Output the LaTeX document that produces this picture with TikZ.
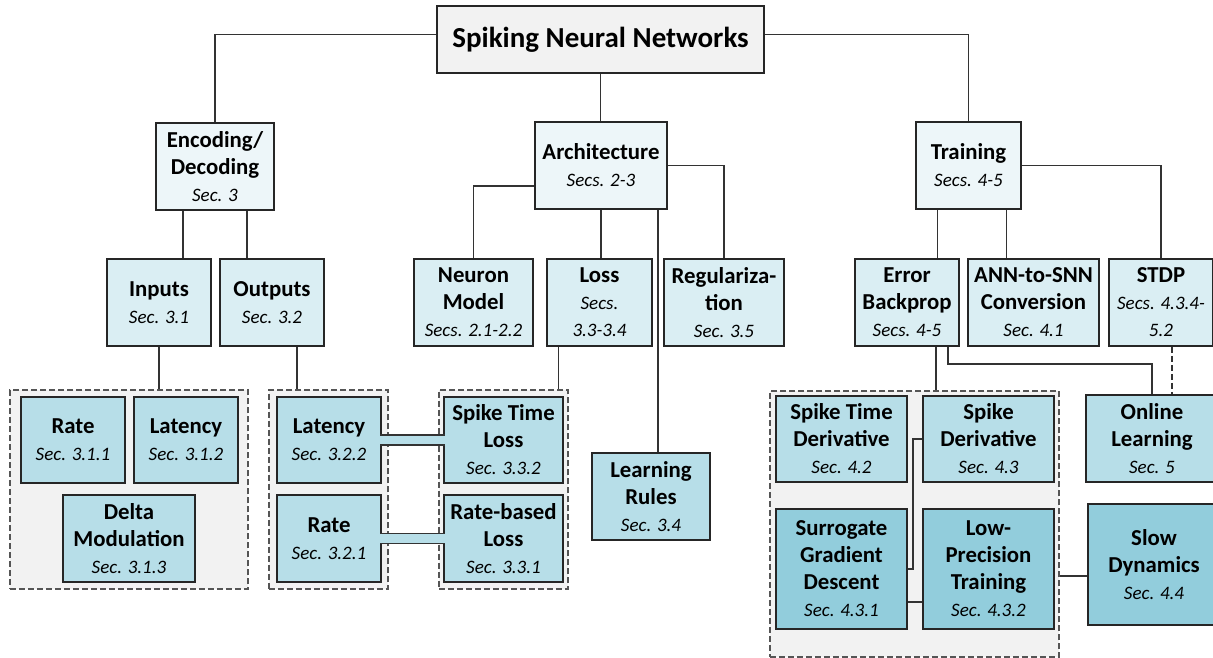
\documentclass[tikz,border=0pt]{standalone}
\usepackage{fontspec}
\setmainfont{Carlito}
\usetikzlibrary{calc}
\definecolor{c0}{HTML}{F2F2F2}
\definecolor{c1}{HTML}{EDF6F9}
\definecolor{c2}{HTML}{DAEEF3}
\definecolor{c3}{HTML}{B7DEE8}
\definecolor{c4}{HTML}{92CDDC}
\definecolor{grpfill}{HTML}{F2F2F2}
\definecolor{bline}{HTML}{262626}
\definecolor{cline}{HTML}{333333}
\definecolor{dline}{HTML}{555555}
\newcommand\snum[1]{{\fontsize{19}{27}\selectfont\mdseries\itshape #1}}
\begin{document}
\begin{tikzpicture}[x=1pt,y=-1pt,
  box/.style={draw=bline, line width=1.5pt, inner sep=0pt, align=center,
    font=\fontsize{22.8}{27}\selectfont\bfseries},
  lvl0/.style={box, fill=c0, font=\fontsize{29}{32}\selectfont\bfseries},
  lvl1/.style={box, fill=c1},
  lvl2/.style={box, fill=c2},
  lvl3/.style={box, fill=c3},
  lvl4/.style={box, fill=c4},
  grp/.style={draw=dline, fill=grpfill, line width=1.5pt, dash pattern=on 6pt off 3pt, inner sep=0pt},
  conn/.style={draw=cline, line width=1.6pt},
  dconn/.style={conn, dash pattern=on 6pt off 3pt},
  bar/.style={draw=cline, line width=1.4pt, double=c3, double distance=8.5pt, shorten <=-1.4pt, shorten >=-1.4pt}
]
\useasboundingbox (0,0) rectangle (1213,658);

% groups
\node[grp, minimum width=238, minimum height=199] (g1) at (129,489.5) {};
\node[grp, minimum width=119, minimum height=199] (g2) at (328.5,489.5) {};
\node[grp, minimum width=129, minimum height=199] (g3) at (503.5,489.5) {};
\node[grp, minimum width=289, minimum height=266] (g4) at (914.5,524) {};

% level 0
\node[lvl0, minimum width=327, minimum height=67] (title) at (600.5,39.5) {Spiking Neural Networks};

% level 1
\node[lvl1, minimum width=118, minimum height=87] (enc) at (215,166.5) {Encoding/\\Decoding\\\snum{Sec. 3}};
\node[lvl1, minimum width=132, minimum height=87] (arch) at (601,165.5) {Architecture\\\snum{Secs. 2-3}};
\node[lvl1, minimum width=105, minimum height=87] (train) at (968.5,165.5) {Training\\\snum{Secs. 4-5}};

% level 2
\node[lvl2, minimum width=104, minimum height=87] (inputs) at (159,302.5) {Inputs\\\snum{Sec. 3.1}};
\node[lvl2, minimum width=104, minimum height=87] (outputs) at (272,302.5) {Outputs\\\snum{Sec. 3.2}};
\node[lvl2, minimum width=119, minimum height=87] (neuron) at (473.5,302.5) {Neuron\\Model\\\snum{Secs. 2.1-2.2}};
\node[lvl2, minimum width=105, minimum height=87] (loss) at (599.5,302.5) {Loss\\\snum{Secs.}\\\snum{3.3-3.4}};
\node[lvl2, minimum width=120, minimum height=87] (reg) at (724,302.5) {Regulariza-\\tion\\\snum{Sec. 3.5}};
\node[lvl2, minimum width=104, minimum height=87] (eb) at (907,302.5) {Error\\Backprop\\\snum{Secs. 4-5}};
\node[lvl2, minimum width=131, minimum height=87] (ann) at (1033.5,302.5) {ANN-to-SNN\\Conversion\\\snum{Sec. 4.1}};
\node[lvl2, minimum width=104, minimum height=87] (stdp) at (1161,302.5) {STDP\\\snum{Secs. 4.3.4-}\\\snum{5.2}};

% level 3
\node[lvl3, minimum width=104, minimum height=86] (rate1) at (73,440) {Rate\\\snum{Sec. 3.1.1}};
\node[lvl3, minimum width=104, minimum height=86] (lat1) at (186,440) {Latency\\\snum{Sec. 3.1.2}};
\node[lvl3, minimum width=132, minimum height=87] (delta) at (129,538.5) {Delta\\Modulation\\\snum{Sec. 3.1.3}};
\node[lvl3, minimum width=104, minimum height=86] (lat2) at (329,440) {Latency\\\snum{Sec. 3.2.2}};
\node[lvl3, minimum width=104, minimum height=87] (rate2) at (329,538.5) {Rate\\\snum{Sec. 3.2.1}};
\node[lvl3, minimum width=119, minimum height=86] (stl) at (503.5,440) {Spike Time\\Loss\\\snum{Sec. 3.3.2}};
\node[lvl3, minimum width=119, minimum height=87] (rbl) at (503.5,538.5) {Rate-based\\Loss\\\snum{Sec. 3.3.1}};
\node[lvl3, minimum width=118, minimum height=87] (learn) at (651,496.5) {Learning\\Rules\\\snum{Sec. 3.4}};
\node[lvl3, minimum width=131, minimum height=86] (std) at (841.5,439) {Spike Time\\Derivative\\\snum{Sec. 4.2}};
\node[lvl3, minimum width=131, minimum height=86] (sd) at (988.5,439) {Spike\\Derivative\\\snum{Sec. 4.3}};
\node[lvl3, minimum width=132, minimum height=87] (online) at (1152,438.5) {Online\\Learning\\\snum{Sec. 5}};

% level 4
\node[lvl4, minimum width=131, minimum height=120] (sgd) at (841.5,569) {Surrogate\\Gradient\\Descent\\\snum{Sec. 4.3.1}};
\node[lvl4, minimum width=131, minimum height=120] (lpt) at (988.5,569) {Low-\\Precision\\Training\\\snum{Sec. 4.3.2}};
\node[lvl4, minimum width=132, minimum height=121] (slow) at (1154,564.5) {Slow\\Dynamics\\\snum{Sec. 4.4}};

% connectors: top level
\draw[conn] ([yshift=5]title.west) -| (enc.north);
\draw[conn] ([yshift=5]title.east) -| (train.north);
\draw[conn] (title.south) coordinate (t0) -- (t0 |- arch.north);

% encoding
\draw[conn] ([xshift=-32]enc.south) coordinate (e1) -- (e1 |- inputs.north);
\draw[conn] ([xshift=32]enc.south) coordinate (e2) -- (e2 |- outputs.north);
\draw[conn] (inputs.south) coordinate (i1) -- (i1 |- g1.north);
\draw[conn] ([xshift=25]outputs.south) coordinate (o1) -- (o1 |- g2.north);

% architecture
\draw[conn] ([yshift=-20.5]arch.west) -| (neuron.north);
\draw[conn] (arch.south) coordinate (a1) -- (a1 |- loss.north);
\draw[conn] (arch.east) -| (reg.north);
\draw[conn] ([xshift=7]learn.north) coordinate (l1) -- (l1 |- arch.south);
\draw[conn] ([xshift=-41]loss.south) coordinate (l2) -- (l2 |- g3.north);

% training
\draw[conn] ([xshift=-31]train.south) coordinate (r1) -- (r1 |- eb.north);
\draw[conn] ([xshift=38]train.south) coordinate (r2) -- (r2 |- ann.north);
\draw[conn] (train.east) -| (stdp.north);
\draw[conn] ([xshift=29]eb.south) coordinate (b1) -- (b1 |- g4.north);
\draw[conn] ([xshift=41]eb.south) -- ++(0,17) -| (online.north);
\draw[dconn] ([xshift=11]stdp.south) coordinate (s1) -- (s1 |- online.north);

% inside group 4
\draw[conn] (sd.west) -- ++(-9,0) |- (sgd.east);
\draw[conn] ([yshift=-33]sgd.east) coordinate (g1e) -- (g1e -| lpt.west);
\draw[conn] ([yshift=-52]g4.east) coordinate (g4e) -- (g4e -| slow.west);

% bars between outputs and losses
\draw[bar] (lat2.east) -- (stl.west);
\draw[bar] (rate2.east) -- (rbl.west);
\end{tikzpicture}
\end{document}
